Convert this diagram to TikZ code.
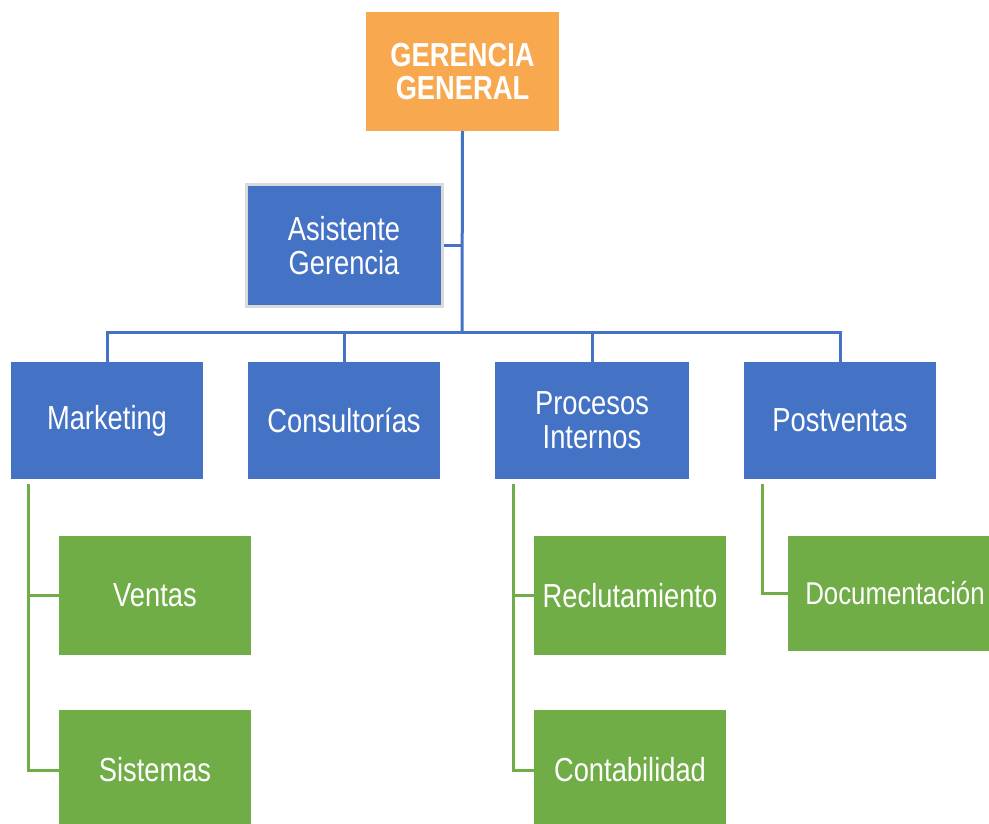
\documentclass[tikz,border=0pt]{standalone}
\usepackage{fontspec}
\setmainfont{Liberation Sans}[FakeStretch=0.82]
\definecolor{cblue}{HTML}{4472C4}
\definecolor{cgreen}{HTML}{70AD47}
\definecolor{corange}{HTML}{F8A94F}
\definecolor{cframe}{HTML}{DADADA}
\begin{document}
\begin{tikzpicture}[x=1pt,y=-1pt,
  box/.style={rectangle, inner sep=0pt, text=white, align=center,
    font=\fontsize{33.3}{34}\selectfont, minimum width=192pt, minimum height=117pt},
  topbox/.style={box, fill=corange, font=\fontsize{33.3}{33}\selectfont\bfseries},
  bluebox/.style={box, fill=cblue},
  greenbox/.style={box, fill=cgreen, minimum height=119pt},
  blueline/.style={draw=cblue, line width=3pt},
  greenline/.style={draw=cgreen, line width=3pt}]
\clip (0,0) rectangle (989,824);
\fill[white] (0,0) rectangle (989,824);

% top management and assistant
\node[topbox, minimum width=193pt, minimum height=119pt] (gg) at (462.5,71.5) {GERENCIA\\GENERAL};
\node[bluebox, draw=cframe, line width=3pt, minimum width=196pt, minimum height=122pt] (asis) at (344,245.5) {Asistente\\Gerencia};

% departments
\node[bluebox] (mk) at (107,420.5) {Marketing};
\node[bluebox] (co) at (344,420.5) {Consultorías};
\node[bluebox, minimum width=194pt] (pi) at (592,420.5) {Procesos\\Internos};
\node[bluebox] (pv) at (840,420.5) {Postventas};

% sub-areas
\node[greenbox] (ve) at (155,595.5) {Ventas};
\node[greenbox, minimum height=120pt] (si) at (155,770) {Sistemas};
\node[greenbox] (re) at (630,595.5) {Reclutamiento};
\node[greenbox, minimum height=120pt] (ct) at (630,770) {Contabilidad};
\node[greenbox, minimum width=214pt, minimum height=115pt,
  font=\fontsize{31.5}{33}\selectfont] (dc) at (895,593.5) {Documentación};

% blue hierarchy lines
\coordinate (bus) at (462,332);
\draw[blueline] (gg.south) -- (bus);
\draw[blueline] (asis.east) -- (asis.east -| bus);
\draw[blueline] (mk.north) |- (bus) -| (pv.north);
\draw[blueline] (co.north) -- (co.north |- bus);
\draw[blueline] (pi.north) -- (pi.north |- bus);

% green sub-area lines
\coordinate (mks) at (28,484);
\coordinate (pis) at (513,484);
\coordinate (pvs) at (762,484);
\draw[greenline] (mks) |- (si.west);
\draw[greenline] (ve.west) -- (ve.west -| mks);
\draw[greenline] (pis) |- (ct.west);
\draw[greenline] (re.west) -- (re.west -| pis);
\draw[greenline] (pvs) |- (dc.west);
\end{tikzpicture}
\end{document}
